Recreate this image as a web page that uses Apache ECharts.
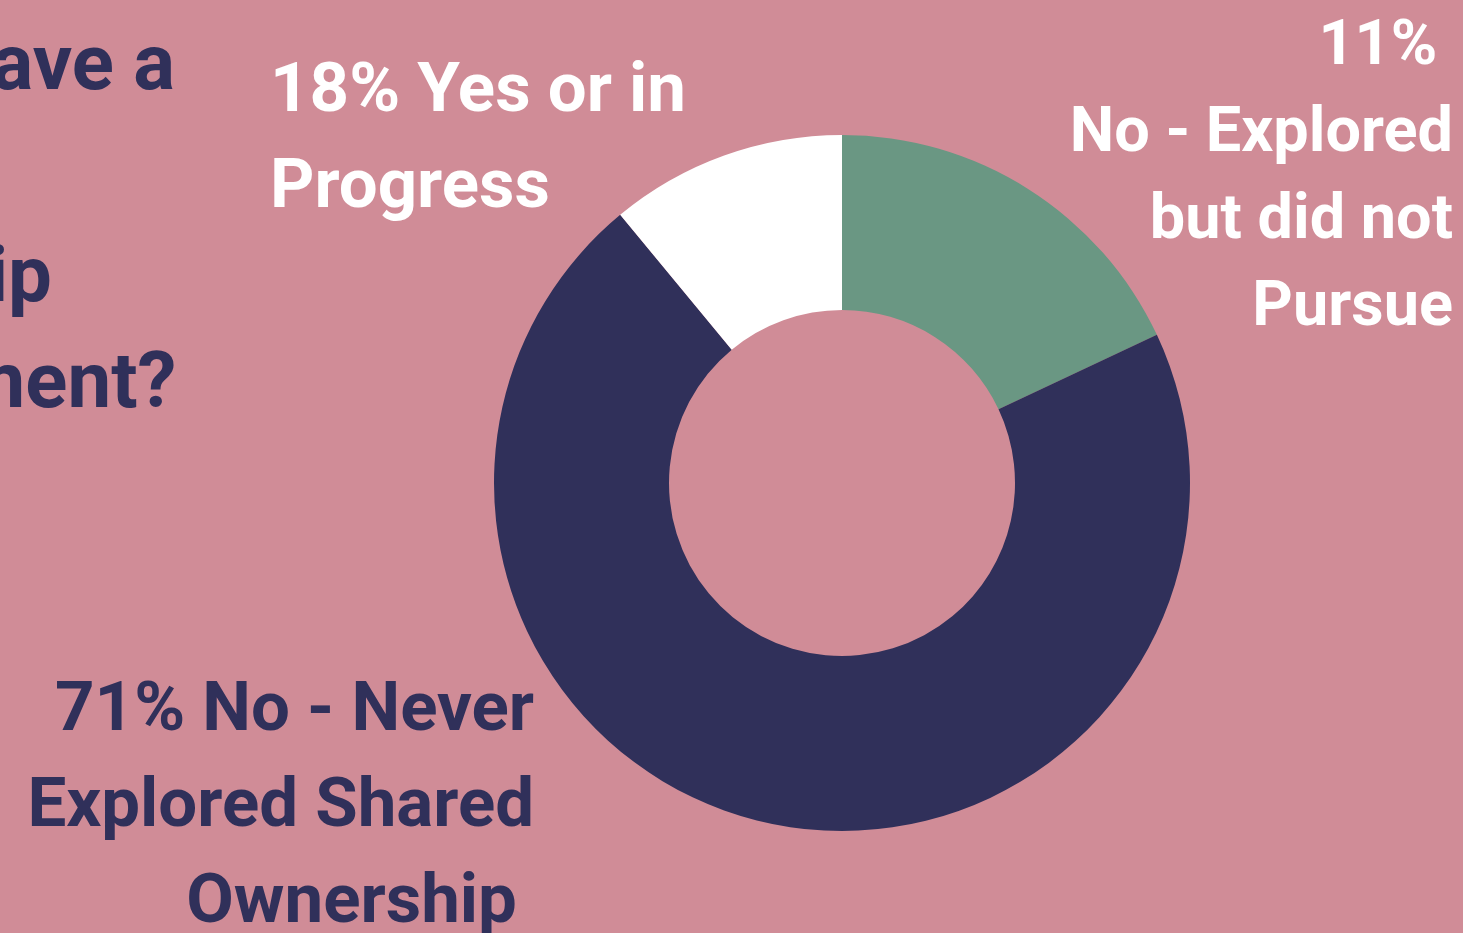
<!DOCTYPE html>
<html>
<head>
<meta charset="utf-8">
<title>Shared ownership</title>
<script src="https://cdn.jsdelivr.net/npm/echarts@6/dist/echarts.min.js"></script>
<style>
  html, body { margin: 0; padding: 0; background: #D08C97; }
  #chart { width: 1463px; height: 933px; }
</style>
</head>
<body>
<div id="chart"></div>
<script>
// Survey answers, clockwise from 12 o'clock
const categories = ['Yes or in Progress', 'No - Never Explored Shared Ownership', 'No - Explored but did not Pursue'];
const shares = [18, 71, 11];
// How each answer's label wraps (the percentage is prefixed to the first line)
const labelLines = [
  ['Yes or in', 'Progress'],
  ['No - Never', 'Explored Shared', 'Ownership '],
  ['', 'No - Explored', 'but did not', 'Pursue']
];
const titleLines = ['Do you have a', 'shared', 'ownership', 'arrangement?'];

const NAVY = '#30305A';
const GREEN = '#6A9783';
const WHITE = '#FFFFFF';
const BG = '#D08C97';
const FONT = 'Roboto';

const sliceColors = [GREEN, NAVY, WHITE];
const labelStyles = [
  { color: WHITE, fontSize: 69, lineHeight: 96 },
  { color: NAVY, fontSize: 69, lineHeight: 96 },
  { color: WHITE, fontSize: 63, lineHeight: 87 }
];
// Where each label block sits on the page
const labelPlaces = [
  { x: 270, y: 46, align: 'left' },
  { x: 534, y: 665, align: 'right' },
  { x: 1453, y: 5, align: 'right' }
];

function labelText(i) {
  const lines = labelLines[i].slice();
  lines[0] = shares[i] + '% ' + lines[0];
  return lines.join('\n');
}

const chart = echarts.init(document.getElementById('chart'), null, { renderer: 'canvas' });

chart.setOption({
  backgroundColor: BG,
  animation: false,
  graphic: [{
    type: 'text',
    left: -312,
    top: 16,
    silent: true,
    style: {
      text: titleLines.join('\n'),
      fill: NAVY,
      fontFamily: FONT,
      fontWeight: 'bold',
      fontSize: 78,
      lineHeight: 106,
      align: 'left'
    }
  }],
  series: [{
    type: 'pie',
    center: [842, 483],
    radius: [173, 348],
    startAngle: 90,
    clockwise: true,
    avoidLabelOverlap: false,
    silent: true,
    emphasis: { disabled: true },
    labelLine: { show: false },
    data: categories.map((name, i) => ({
      name: name,
      value: shares[i],
      itemStyle: { color: sliceColors[i] },
      label: {
        show: true,
        formatter: labelText(i),
        fontFamily: FONT,
        fontWeight: 'bold',
        fontSize: labelStyles[i].fontSize,
        lineHeight: labelStyles[i].lineHeight,
        color: labelStyles[i].color,
        align: labelPlaces[i].align
      }
    })),
    labelLayout: function (params) {
      const p = labelPlaces[params.dataIndex];
      return { x: p.x, y: p.y, align: p.align, verticalAlign: 'top' };
    }
  }]
});
</script>
</body>
</html>
